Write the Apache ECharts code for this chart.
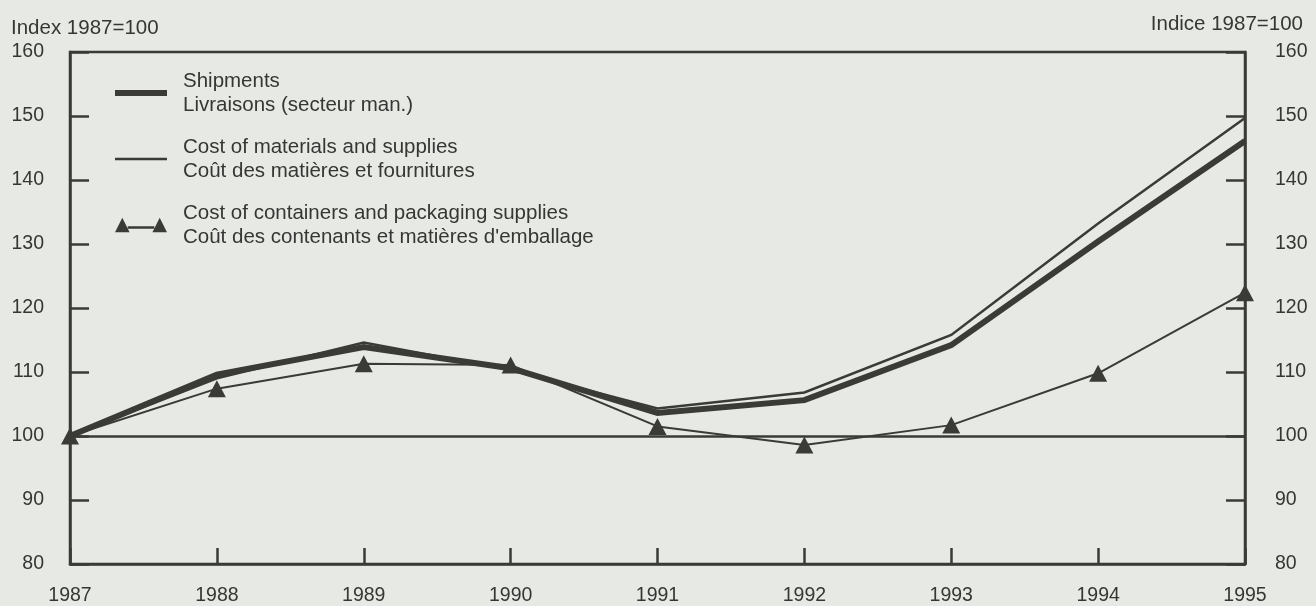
<!DOCTYPE html>
<html>
<head>
<meta charset="utf-8">
<script src="https://cdn.jsdelivr.net/npm/echarts@6/dist/echarts.min.js"></script>
<style>
html,body{margin:0;padding:0;background:#e7e9e5;}
#chart{width:1316px;height:606px;}
</style>
</head>
<body>
<div id="chart"></div>
<script>
const years = ['1987','1988','1989','1990','1991','1992','1993','1994','1995'];
const shipments  = [100, 109.6, 113.9, 110.6, 103.6, 105.6, 114.2, 130.4, 146.1];
const materials  = [100, 109.0, 114.6, 110.3, 104.3, 106.8, 115.8, 133.2, 149.7];
const containers = [100, 107.4, 111.3, 111.1, 101.5, 98.6, 101.7, 109.8, 122.4];
const seriesNames = [
  'Shipments\nLivraisons (secteur man.)',
  'Cost of materials and supplies\nCoût des matières et fournitures',
  'Cost of containers and packaging supplies\nCoût des contenants et matières d\'emballage'
];
const leftAxisTitle = 'Index 1987=100';
const rightAxisTitle = 'Indice 1987=100';
const yMin = 80, yMax = 160, yStep = 10, baseLine = 100;

const INK = '#3a3b36';
const TXT = '#363734';
const FONT = '"Liberation Sans", Arial, Helvetica, sans-serif';
const FS = 19.5;
const LFS = 20.5;

const chart = echarts.init(document.getElementById('chart'), null, {renderer: 'canvas'});

const yAxisCommon = {
  type: 'value', min: yMin, max: yMax, interval: yStep,
  axisLine: {show: true, lineStyle: {color: INK, width: 2.5}},
  axisTick: {show: true, inside: true, length: 19, lineStyle: {color: INK, width: 2.5}},
  splitLine: {show: false},
  axisLabel: {color: TXT, fontSize: FS, fontFamily: FONT}
};

const thickIcon = 'path://M0 0 H50 V6 H0 Z';
const thinIcon = 'path://M0 0 H50 V2.4 H0 Z';
const containerIcon = 'path://M0 16 L8 0 L16 16 Z M14 9.5 H43 V12 H14 Z M41 16 L49 0 L57 16 Z';

chart.setOption({
  backgroundColor: '#e7e9e5',
  animation: false,
  title: [
    {text: leftAxisTitle, left: 6, top: 13, textStyle: {color: TXT, fontSize: LFS, fontWeight: 'normal', fontFamily: FONT}},
    {text: rightAxisTitle, right: 8, top: 9, textStyle: {color: TXT, fontSize: LFS, fontWeight: 'normal', fontFamily: FONT}}
  ],
  grid: {left: 70, right: 71, top: 52, bottom: 40, show: true, borderColor: INK, borderWidth: 2.5, backgroundColor: 'transparent', containLabel: false},
  legend: {
    orient: 'vertical', left: 115, top: 69, padding: 0,
    itemWidth: 52, itemHeight: 16, itemGap: 18,
    symbolKeepAspect: true,
    textStyle: {color: TXT, fontSize: LFS, fontFamily: FONT, lineHeight: 24, padding: [0, 0, 0, 11]},
    data: [
      {name: seriesNames[0], icon: thickIcon, itemStyle: {color: INK}},
      {name: seriesNames[1], icon: thinIcon, itemStyle: {color: INK}},
      {name: seriesNames[2], icon: containerIcon, itemStyle: {color: INK}}
    ]
  },
  xAxis: {
    type: 'category', data: years, boundaryGap: false,
    axisLine: {show: true, lineStyle: {color: INK, width: 2.5}},
    axisTick: {show: true, inside: true, length: 16, alignWithLabel: true, lineStyle: {color: INK, width: 2.5}},
    axisLabel: {color: TXT, fontSize: FS, fontFamily: FONT, margin: 22},
    splitLine: {show: false}
  },
  yAxis: [
    Object.assign({}, yAxisCommon, {position: 'left', axisLabel: Object.assign({}, yAxisCommon.axisLabel, {margin: 26})}),
    Object.assign({}, yAxisCommon, {position: 'right', axisLabel: Object.assign({}, yAxisCommon.axisLabel, {margin: 30})})
  ],
  series: [
    {
      name: seriesNames[0], type: 'line', data: shipments, symbol: 'none',
      lineStyle: {color: INK, width: 6, join: 'miter'}, itemStyle: {color: INK}, z: 4
    },
    {
      name: seriesNames[1], type: 'line', data: materials, symbol: 'none',
      lineStyle: {color: INK, width: 2.5, join: 'miter'}, itemStyle: {color: INK}, z: 3
    },
    {
      name: seriesNames[2], type: 'line', data: containers,
      symbol: 'triangle', symbolSize: [18, 17],
      lineStyle: {color: INK, width: 2}, itemStyle: {color: INK}, z: 5,
      markLine: {
        silent: true, symbol: 'none', label: {show: false},
        lineStyle: {color: INK, width: 2.5, type: 'solid'},
        data: [{yAxis: baseLine}]
      }
    }
  ]
});
</script>
</body>
</html>
